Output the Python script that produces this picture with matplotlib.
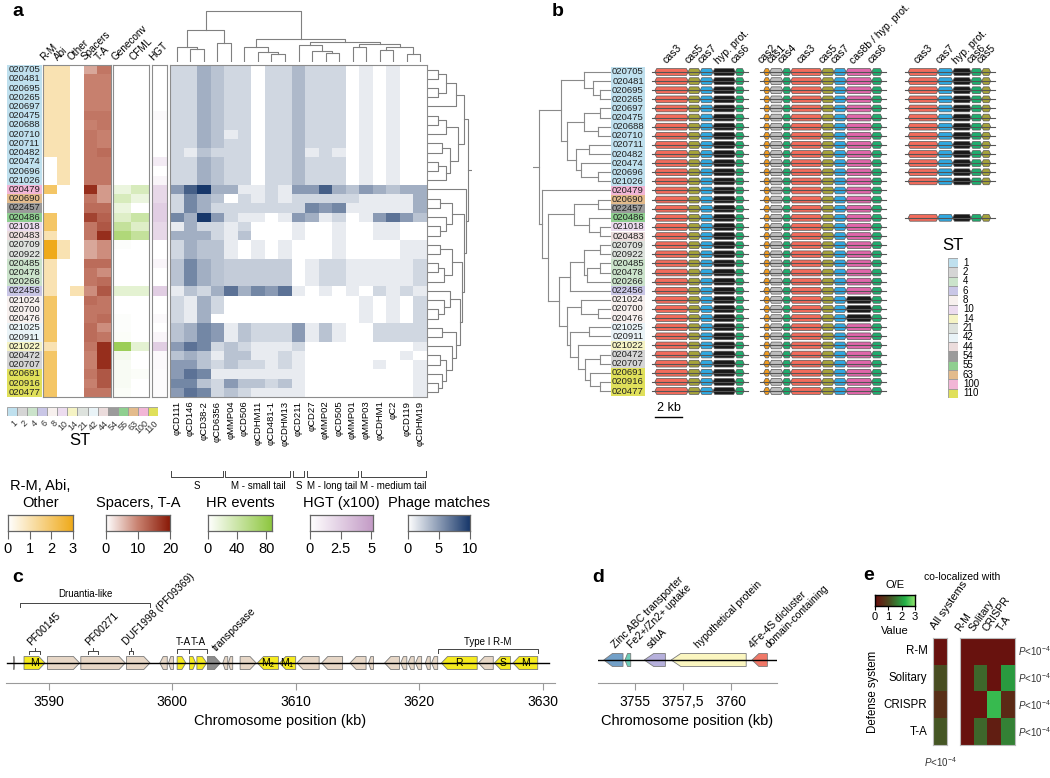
import numpy as np
import matplotlib
matplotlib.use("Agg")
import matplotlib.pyplot as plt
from matplotlib.colors import LinearSegmentedColormap
from matplotlib.patches import Rectangle, Polygon

plt.rcParams['font.family'] = ['Liberation Sans', 'DejaVu Sans']
plt.rcParams['mathtext.fontset'] = 'custom'
plt.rcParams['mathtext.rm'] = 'Liberation Sans'
plt.rcParams['mathtext.it'] = 'Liberation Sans:italic'

# ---------------- data ----------------
strains = ["020705", "020481", "020695", "020265", "020697", "020475", "020688", "020710",
           "020711", "020482", "020474", "020696", "021026", "020479", "020690", "022457",
           "020486", "021018", "020483", "020709", "020922", "020485", "020478", "020266",
           "022456", "021024", "020700", "020476", "021025", "020911", "021022", "020472",
           "020707", "020691", "020916", "020477"]
strain_st = [1]*13 + [100, 63, 54, 55, 10, 44, 21, 21, 4, 4, 4, 6, 8, 8, 8, 42, 42, 14,
                      2, 2, 110, 110, 110]
st_levels = [1, 2, 4, 6, 8, 10, 14, 21, 42, 44, 54, 55, 63, 100, 110]
st_colors = ['#bfe0ee', '#d5d5d5', '#cbe3cb', '#c9c6e6', '#f7f0ee', '#ecdcef', '#f5f3c4',
             '#dde2dd', '#e9f3f7', '#ebdcdc', '#9b9b9b', '#8fcf90', '#e3bb8c', '#f2b6d6',
             '#e0e05a']

rm = [1]*10 + [0, 0, 0, 2, 0, 0, 2, 2, 1, 3, 3, 1, 1, 1, 1, 2, 2, 2, 2, 2, 1, 2, 2, 2, 2, 2]
abi = [1]*13 + [0]*6 + [1, 1] + [0]*15
other = [0]*24 + [1] + [0]*11
spacers = [7, 10, 10, 10, 10, 11, 10, 11, 11, 11, 11, 11, 11, 18, 11, 12, 16, 11, 11, 7, 7,
           12, 11, 11, 9, 12, 11, 11, 12, 12, 11, 10, 10, 11, 10, 11]
ta = [11, 10, 10, 10, 10, 11, 11, 10, 10, 12, 11, 11, 11, 8, 8, 12, 13, 14, 18, 9, 9,
      12, 9, 12, 14, 11, 11, 12, 9, 11, 18, 18, 18, 14, 14, 11]
geneconv = [0]*13 + [15, 30, 15, 25, 45, 60, 2, 0, 0, 0, 0, 20, 0, 0, 2, 2, 3, 75, 8, 5, 5, 5, 3]
cfml = [0]*13 + [30, 15, 0, 40, 25, 45, 0, 0, 0, 0, 0, 20, 0, 0, 0, 0, 0, 20, 0, 0, 3, 0, 0]
hgt = [0, 0, 0, 0, 0, 0.3, 0, 0, 0, 0, 1, 0, 0.5, 2, 2, 2.5, 2.5, 2, 2, 0, 0, 0.5, 0, 0,
       2.5, 0, 0, 0.3, 0, 0.5, 2.5, 0.3, 0.3, 0.2, 0.2, 0.2]

phage_names = ["φCD111", "φCD146", "φCD38-2", "φCD6356", "φMMP04", "φCD506", "φCDHM11",
               "φCD481-1", "φCDHM13", "φCD211", "φCD27", "φMMP02", "φCD505", "φMMP01",
               "φMMP03", "φCDHM1", "φC2", "φCD119", "φCDHM19"]
phage_groups = [("S", 0, 3), ("M - small tail", 4, 8), ("S", 9, 9),
                ("M - long tail", 10, 13), ("M - medium tail", 14, 18)]
st1_row = [2, 2, 4, 3, 2, 2, 0, 2, 2, 3.5, 2, 2, 2, 0, 1, 0, 1, 0, 0]
phage = [
    st1_row, st1_row, st1_row, st1_row, st1_row, st1_row, st1_row,
    [2, 2, 4, 3, 1, 2, 0, 2, 2, 3.5, 2, 2, 2, 0, 1, 0, 1, 0, 0],
    st1_row,
    [2, 1, 3, 2, 2, 2, 0, 2, 2, 3.5, 1, 2, 1, 0, 1, 0, 1, 0, 0],
    st1_row, st1_row, st1_row,
    [5, 8, 10, 4, 4, 1, 1, 2, 1, 5, 5, 8, 4, 3, 5, 4, 3, 4, 4],
    [2, 6, 4, 3, 0, 2, 1, 2, 1, 2, 2, 2, 2, 2, 1, 1, 1, 1, 4],
    [2, 6, 4, 2, 2, 2, 2, 2, 2, 2, 6, 5, 6, 1, 1, 1, 1, 1, 4],
    [6, 4, 10, 5, 2, 1, 1, 0, 1, 5, 4, 1, 2, 0, 1, 5, 7, 5, 3],
    [1, 4, 2, 2, 1, 2, 0, 0, 0, 1, 0, 0, 1, 0, 0, 1, 1, 0, 0],
    [4, 4, 4, 2, 1, 3, 0, 0, 0, 1, 0, 0, 1, 0, 0, 1, 1, 0, 0],
    [2, 4, 3, 3, 1, 0, 1, 0, 1, 0, 0, 0, 1, 0, 0, 0, 0, 1, 1],
    [2, 4, 3, 3, 1, 0, 1, 0, 1, 0, 0, 0, 1, 0, 0, 0, 0, 1, 1],
    [3, 6, 4, 3, 2.5, 2.5, 2.5, 2.5, 2.5, 0, 1, 2, 2, 1, 1, 1, 1, 1, 2],
    [3, 6, 4, 3, 2.5, 2.5, 2.5, 2.5, 2.5, 0, 1, 2, 2, 1, 1, 1, 1, 1, 2],
    [3, 6, 4, 3, 2.5, 2.5, 2.5, 2.5, 2.5, 0, 1, 2, 2, 1, 1, 1, 1, 1, 2],
    [1, 3, 2, 4, 7, 4, 6, 5, 7, 1, 0, 1, 0, 1, 0, 2, 1, 2, 1],
    [2, 1, 4, 2, 0, 0, 0, 0, 0, 0, 0, 0, 0, 0, 1, 0, 1, 0, 2],
    [2, 1, 4, 2, 0, 0, 0, 0, 0, 0, 0, 0, 0, 0, 1, 0, 1, 0, 2],
    [2, 1, 4, 0, 0, 0, 0, 0, 0, 0, 0, 0, 0, 0, 1, 0, 1, 0, 2],
    [3, 4, 6, 5, 1, 3, 2, 2, 2, 5, 1, 3, 1, 0, 0, 2, 2, 2, 2],
    [3, 4, 6, 5, 1, 3, 2, 2, 2, 5, 1, 3, 1, 0, 0, 2, 2, 2, 2],
    [5, 7, 6, 2, 3, 2, 1, 1, 1, 2, 0, 0, 0, 0, 0, 0, 0, 0, 1],
    [3, 4, 3, 1, 3, 3, 1, 1, 2, 1, 0, 0, 0, 0, 0, 0, 0, 1, 0],
    [5, 5, 3, 2, 3, 2, 2, 1, 2, 1, 0, 0, 0, 0, 0, 1, 0, 0, 1],
    [5, 7, 6, 1, 1, 1, 1, 1, 1, 1, 0, 0, 0, 0, 0, 0, 0, 0, 1],
    [6, 6, 3, 2, 5, 3, 3, 2, 3, 1, 0, 0, 0, 0, 0, 0, 0, 0, 1],
    [5, 7, 6, 2, 3, 2, 1, 1, 1, 1, 0, 0, 0, 0, 0, 0, 0, 0, 1],
]

# dendrograms: (height, left, right); leaves are indices
col_tree = (1.0,
            (0.62, (0.3, 0, (0.25, 1, 2)), (0.37, 3, 4)),
            (0.45, (0.3, 5, (0.2, 6, (0.15, 7, 8))),
             (0.4, (0.33, 9, (0.22, 10, (0.17, 11, 12))),
              (0.36, (0.3, 13, 14), (0.3, (0.24, 15, 16), (0.15, 17, 18))))))
row_tree = (1.0,
            (0.9, (0.7, (0.45, (0.25, 0, 1), (0.25, 2, 3)), 4),
             (0.75, (0.45, (0.25, 5, 6), 7), (0.55, (0.35, 8, 9), (0.45, (0.25, 10, 11), 12)))),
            (0.95, 13, (0.9, (0.6, (0.3, 14, 15), (0.45, 16, (0.3, 17, 18))),
                        (0.85, (0.6, (0.3, 19, 20), (0.4, (0.25, 21, 22), 23)),
                         (0.8, (0.55, 24, (0.4, 25, (0.25, 26, 27))),
                          (0.7, (0.35, 28, 29),
                           (0.6, 30, (0.45, (0.3, 31, 32), (0.35, 33, (0.25, 34, 35))))))))))
# phylogeny of panel b: (node depth from root, left, right)
b_tree = (0.03,
          (0.32, (0.63, 0, (0.75, 1, (0.85, 2, 3))),
           (0.41, (0.63, (0.85, 4, 5), (0.82, 6, 7)),
            (0.52, (0.7, 8, 9), (0.6, 10, (0.82, 11, 12))))),
          (0.07, 13, (0.15, (0.5, (0.82, 14, 15), (0.7, 16, (0.85, 17, 18))),
                      (0.3, (0.45, (0.63, (0.85, 19, 20), (0.68, (0.85, 21, 22), 23)), 24),
                       (0.4, (0.6, 25, (0.82, 26, 27)),
                        (0.45, (0.7, 28, 29),
                         (0.55, 30, (0.65, (0.85, 31, 32), (0.72, 33, (0.85, 34, 35))))))))))

# CRISPR-Cas loci (gene lengths in kb)
cl1_genes = ["cas3", "cas5", "cas7", "hyp. prot.", "cas6"]
cl1_len = [2.45, 0.9, 0.95, 1.65, 0.65]
cl2_genes = ["cas2", "cas1", "cas4", "cas3", "cas5", "cas7", "cas8b / hyp. prot.", "cas6"]
cl2_len = [0.45, 0.95, 0.6, 2.3, 0.9, 0.9, 1.9, 0.75]
cl3_genes = ["cas3", "cas7", "hyp. prot.", "cas6", "cas5"]
cl3_len = [2.2, 1.1, 1.35, 0.8, 0.65]
cl_start = [0.74, 8.8, 19.5]
gene_colors = {"cas3": '#f26b5b', "cas5": '#a5a23a', "cas7": '#2fa8e0', "hyp. prot.": '#1a1a1a',
               "cas6": '#1fad6e', "cas2": '#f39c1e', "cas1": '#bdbdbd', "cas4": '#1fad6e',
               "cas8b / hyp. prot.": '#e066aa'}
has_cl3 = list(range(13)) + [16]
cl2_hyp_rows = [25, 26, 27]

# panel c: (start kb, end kb, strand, kind, label)
c_genes = [(3587.15, 3587.25, 1, 'o', ''), (3588.0, 3589.7, 1, 'y', 'M'),
           (3589.9, 3592.5, 1, 'o', ''), (3592.6, 3596.2, 1, 'o', ''), (3596.3, 3598.2, 1, 'o', ''),
           (3599.0, 3599.6, -1, 'o', ''), (3599.7, 3600.1, -1, 'o', ''),
           (3600.4, 3601.1, 1, 'y', ''), (3601.4, 3601.9, 1, 'y', ''), (3602.0, 3602.8, 1, 'y', ''),
           (3602.85, 3603.9, 1, 'g', ''), (3604.1, 3604.5, -1, 'o', ''), (3604.55, 3604.9, -1, 'o', ''),
           (3605.5, 3606.8, 1, 'o', ''), (3606.9, 3608.6, -1, 'y', 'M$_2$'),
           (3608.7, 3610.0, -1, 'y', 'M$_1$'), (3610.1, 3611.9, -1, 'o', ''),
           (3612.1, 3613.8, -1, 'o', ''), (3614.4, 3615.7, -1, 'o', ''), (3615.9, 3616.3, -1, 'o', ''),
           (3617.2, 3618.4, -1, 'o', ''), (3618.5, 3619.0, -1, 'o', ''), (3619.1, 3619.6, -1, 'o', ''),
           (3619.7, 3620.2, -1, 'o', ''), (3620.5, 3620.9, -1, 'o', ''), (3621.0, 3621.5, -1, 'o', ''),
           (3621.8, 3624.7, -1, 'y', 'R'), (3624.8, 3626.0, -1, 'o', ''),
           (3626.1, 3627.4, -1, 'y', 'S'), (3627.6, 3629.6, -1, 'y', 'M')]
c_backbone = (3586.6, 3630.5)
c_domains = [("PF00145", 3588.4, 3589.3), ("PF00271", 3593.2, 3594.0),
             ("DUF1998 (PF09369)", 3596.5, 3596.8)]
c_ta = [(3600.4, 3601.4), (3601.4, 3602.8)]
c_transposase = 3603.7
c_druantia = (3587.7, 3598.2)
c_rm = (3621.5, 3629.6)
c_ticks = [3590, 3600, 3610, 3620, 3630]

# panel d
d_genes = [(3753.4, 3754.4, -1, '#72a0c8'), (3754.5, 3754.8, -1, '#6ccdb8'),
           (3755.5, 3756.6, -1, '#b6b0dc'), (3756.9, 3760.8, -1, '#fbf6c0'),
           (3761.1, 3761.9, -1, '#f07868')]
d_labels = [("Zinc ABC transporter", 3754.1), ("Fe2+/Zn2+ uptake", 3754.9), ("sduA", 3755.9),
            ("hypothetical protein", 3758.4), ("4Fe-4S dicluster", 3761.25),
            ("domain-containing", 3762.05)]
d_backbone = (3753.1, 3762.4)
d_ticks = [3755, 3757.5, 3760]
d_ticklabels = ["3755", "3757,5", "3760"]

# panel e
e_rows = ["R-M", "Solitary", "CRISPR", "T-A"]
e_all = [0.1, 1.1, 0.6, 1.2]
e_pair = [[0.1, 0.1, 0.1, 0.1],
          [0.1, 1.4, 0.1, 2.0],
          [0.1, 0.1, 2.4, 0.5],
          [0.1, 1.4, 0.3, 1.7]]

# ---------------- colour maps ----------------
c_org = LinearSegmentedColormap.from_list('org', ['#ffffff', '#efaa1a'])
c_red = LinearSegmentedColormap.from_list('red', ['#ffffff', '#c8816f', '#8a1a08'])
c_grn = LinearSegmentedColormap.from_list('grn', ['#ffffff', '#8cc63c'])
c_pur = LinearSegmentedColormap.from_list('pur', ['#ffffff', '#c39bc6'])
c_blu = LinearSegmentedColormap.from_list('blu', ['#ffffff', '#17376a'])
c_oe = LinearSegmentedColormap.from_list('oe', [(0, '#6b0d0d'), (0.35, '#4a4a20'),
                                                 (0.75, '#22b048'), (1, '#8fe36e')])

W, H = 1050, 778
fig = plt.figure(figsize=(10.5, 7.78), dpi=100)
GRAY = '#8c8c8c'


def add_ax(x0, y0, x1, y1):
    return fig.add_axes([x0 / W, 1 - y1 / H, (x1 - x0) / W, (y1 - y0) / H])


def ftext(x, y, s, **kw):
    fig.text(x / W, 1 - y / H, s, **kw)


def rgba(vals, cmap, vmax):
    return cmap(np.clip(np.asarray(vals, float) / vmax, 0, 1))


def heat(ax, img):
    ax.imshow(img, aspect='auto', interpolation='nearest')
    ax.set_xticks([])
    ax.set_yticks([])
    for sp in ax.spines.values():
        sp.set_color(GRAY)
        sp.set_linewidth(0.8)


def dendro(ax, node, vertical):
    if isinstance(node, int):
        return node, 0.0
    h, a, b = node
    pa, ha = dendro(ax, a, vertical)
    pb, hb = dendro(ax, b, vertical)
    xs, ys = [pa, pa, pb, pb], [ha, h, h, hb]
    if vertical:
        ax.plot(xs, ys, color='#808080', lw=0.8)
    else:
        ax.plot(ys, xs, color='#808080', lw=0.8)
    return (pa + pb) / 2, h


def clado(ax, node):
    if isinstance(node, int):
        return node, 1.0
    d, a, b = node
    pa, xa = clado(ax, a)
    pb, xb = clado(ax, b)
    ax.plot([d, d], [pa, pb], color='#8a8a8a', lw=0.8)
    ax.plot([d, xa], [pa, pa], color='#8a8a8a', lw=0.8)
    ax.plot([d, xb], [pb, pb], color='#8a8a8a', lw=0.8)
    return (pa + pb) / 2, d


def label_boxes(ax):
    for i, (s, t) in enumerate(zip(strains, strain_st)):
        ax.add_patch(Rectangle((0, i - 0.5), 1, 1, color=st_colors[st_levels.index(t)], lw=0))
        ax.text(0.5, i, s, ha='center', va='center', fontsize=6.8, color='#222222')
    ax.set_xlim(0, 1)
    ax.set_ylim(len(strains) - 0.5, -0.5)
    ax.axis('off')


n = len(strains)
A_TOP, A_BOT = 65, 397

# ================= panel a =================
ftext(12, 12, 'a', fontsize=14, fontweight='bold', va='center')
label_boxes(add_ax(7, A_TOP, 42, A_BOT))

ax = add_ax(43, A_TOP, 111, A_BOT)
heat(ax, np.stack([rgba(rm, c_org, 3), rgba(abi, c_org, 3), rgba(other, c_org, 3),
                   rgba(spacers, c_red, 20), rgba(ta, c_red, 20)], axis=1))
for j, s in enumerate(["R-M", "Abi", "Other", "Spacers", "T-A"]):
    ax.text(j - 0.3, -0.8, s, rotation=45, ha='left', va='bottom', rotation_mode='anchor',
            fontsize=7.2)

ax = add_ax(113, A_TOP, 149, A_BOT)
heat(ax, np.stack([rgba(geneconv, c_grn, 88), rgba(cfml, c_grn, 88)], axis=1))
for j, s in enumerate(["Geneconv", "CFML"]):
    ax.text(j - 0.3, -0.8, s, rotation=45, ha='left', va='bottom', rotation_mode='anchor',
            fontsize=7.2)

ax = add_ax(152, A_TOP, 167, A_BOT)
heat(ax, rgba(hgt, c_pur, 5.16)[:, None, :])
ax.text(-0.3, -0.8, "HGT", rotation=45, ha='left', va='bottom', rotation_mode='anchor',
        fontsize=7.2)

ax = add_ax(170, A_TOP, 427, A_BOT)
heat(ax, rgba(phage, c_blu, 10))
for j, s in enumerate(phage_names):
    ax.text(j, n - 0.1, s, rotation=90, ha='center', va='top', fontsize=6.8)

ax = add_ax(170, 470, 427, 494)
ax.set_xlim(-0.5, 18.5)
ax.set_ylim(1, 0)
ax.axis('off')
for name, j0, j1 in phage_groups:
    ax.plot([j0 - 0.4, j0 - 0.4, j1 + 0.4, j1 + 0.4], [0.05, 0.3, 0.3, 0.05], color='#444444', lw=0.7)
    ax.text((j0 + j1) / 2, 0.45, name, ha='center', va='top', fontsize=7)

ax = add_ax(170, 10, 427, 62)
dendro(ax, col_tree, True)
ax.set_xlim(-0.5, 18.5)
ax.set_ylim(0, 1.02)
ax.axis('off')

ax = add_ax(428, A_TOP, 472, A_BOT)
p, h = dendro(ax, row_tree, False)
ax.plot([h, 1.08], [p, p], color='#808080', lw=0.8)
ax.set_ylim(n - 0.5, -0.5)
ax.set_xlim(0, 1.1)
ax.axis('off')

# ST strip
ax = add_ax(7, 407, 158, 416)
for j, (lv, col) in enumerate(zip(st_levels, st_colors)):
    ax.add_patch(Rectangle((j, 0), 1, 1, facecolor=col, edgecolor='#9a9a9a', lw=0.6))
    ax.text(j + 0.6, -0.3, str(lv), rotation=45, ha='right', va='top', rotation_mode='anchor',
            fontsize=6.5, color='#333333')
ax.set_xlim(0, len(st_levels))
ax.set_ylim(0, 1)
ax.axis('off')
ftext(80, 440, 'ST', fontsize=12, ha='center', va='center')

# colour legends
legends = [("R-M, Abi,\nOther", 8, 73, c_org, 3, [0, 1, 2, 3], ["0", "1", "2", "3"]),
           ("Spacers, T-A", 106, 170, c_red, 20, [0, 10, 20], ["0", "10", "20"]),
           ("HR events", 208, 272, c_grn, 88, [0, 40, 80], ["0", "40", "80"]),
           ("HGT (x100)", 310, 373, c_pur, 5.16, [0, 2.5, 5], ["0", "2.5", "5"]),
           ("Phage matches", 408, 470, c_blu, 10, [0, 5, 10], ["0", "5", "10"])]
for title, x0, x1, cm, vmax, ticks, tl in legends:
    ax = add_ax(x0, 515, x1, 531)
    ax.imshow(np.linspace(0, vmax, 256)[None, :], cmap=cm, vmin=0, vmax=vmax, aspect='auto',
              extent=(0, vmax, 0, 1))
    ax.set_xlim(0, vmax)
    ax.set_yticks([])
    ax.set_xticks(ticks)
    ax.set_xticklabels(tl, fontsize=10.5)
    ax.tick_params(axis='x', length=6, width=0.8, color='#666666', pad=2)
    for sp in ax.spines.values():
        sp.set_color('#666666')
        sp.set_linewidth(0.9)
    ax.set_title(title, fontsize=10.5, pad=6)

# ================= panel b =================
ftext(552, 12, 'b', fontsize=14, fontweight='bold', va='center')
row_h = (391 - 72) / (n - 1)
top, bot = 72 - row_h / 2, 391 + row_h / 2

ax = add_ax(533, top, 611, bot)
p, d0 = clado(ax, b_tree)
ax.plot([-0.05, d0], [p, p], color='#8a8a8a', lw=0.8)
ax.set_xlim(-0.055, 1.0)
ax.set_ylim(n - 0.5, -0.5)
ax.axis('off')

label_boxes(add_ax(611, top, 645, bot))

ax = add_ax(645, top, 1000, bot)
ax.set_xlim(0, 355 / 13.5)
ax.set_ylim(n - 0.5, -0.5)
ax.axis('off')


def capsule(ax, s, e, y, h, tip, fc):
    pts = [(s, y), (s + tip, y - h), (e - tip, y - h), (e, y), (e - tip, y + h), (s + tip, y + h)]
    ax.add_patch(Polygon(pts, closed=True, facecolor=fc, edgecolor='#555555', lw=0.5))


clusters = [(cl1_genes, cl1_len), (cl2_genes, cl2_len), (cl3_genes, cl3_len)]
for k, (genes, lens) in enumerate(clusters):
    edges = np.concatenate([[0], np.cumsum(lens)]) + cl_start[k]
    for g, a0, a1 in zip(genes, edges[:-1], edges[1:]):
        ax.text((a0 + a1) / 2 - 0.3, -0.7, g, rotation=45, ha='left', va='bottom',
                rotation_mode='anchor', fontsize=7.6, clip_on=False)
    for i in range(n):
        if k == 2 and i not in has_cl3:
            continue
        ax.plot([edges[0] - 0.25, edges[-1] + 0.3], [i, i], color='#555555', lw=0.8)
        for g, a0, a1 in zip(genes, edges[:-1], edges[1:]):
            col = gene_colors[g]
            if k == 1 and g.startswith("cas8b") and i in cl2_hyp_rows:
                col = '#1a1a1a'
            capsule(ax, a0, a1, i, 0.37, 0.12, col)
ax.plot([cl_start[0], cl_start[0] + 2], [37.9, 37.9], color='k', lw=1, clip_on=False)
ax.text(cl_start[0] + 1, 36.9, "2 kb", ha='center', va='center', fontsize=9, clip_on=False)

ax = add_ax(948, 258, 958, 398)
for j, col in enumerate(st_colors):
    ax.add_patch(Rectangle((0, j), 1, 1, facecolor=col, edgecolor='#9a9a9a', lw=0.6))
    ax.text(1.5, j + 0.5, str(st_levels[j]), ha='left', va='center', fontsize=7)
ax.set_xlim(0, 1)
ax.set_ylim(len(st_colors), 0)
ax.axis('off')
ftext(953, 246, 'ST', fontsize=12, ha='center', va='center')


def arrow_gene(ax, s, e, strand, h, fc):
    tip = min(0.5, 0.45 * (e - s))
    if strand > 0:
        pts = [(s, -h), (e - tip, -h), (e, 0), (e - tip, h), (s, h)]
    else:
        pts = [(e, -h), (s + tip, -h), (s, 0), (s + tip, h), (e, h)]
    ax.add_patch(Polygon(pts, closed=True, facecolor=fc, edgecolor='#7a7a7a', lw=0.6))


def genome_axis(ax, ticks, labels):
    for s in ['left', 'top', 'right']:
        ax.spines[s].set_visible(False)
    ax.spines['bottom'].set_color('#9a9a9a')
    ax.set_yticks([])
    ax.set_xticks(ticks)
    ax.set_xticklabels(labels, fontsize=10)
    ax.tick_params(axis='x', length=5, color='#9a9a9a', pad=4)
    ax.set_xlabel('Chromosome position (kb)', fontsize=10.5, labelpad=3)


# ================= panel c =================
ftext(12, 578, 'c', fontsize=14, fontweight='bold', va='center')
ax = add_ax(5.5, 596, 555, 683)
ax.set_xlim(3586.5, 3631)
ax.set_ylim(-20, 67)
ax.plot(c_backbone, [0, 0], color='k', lw=1)
kinds = {'y': '#f5ea1f', 'o': '#e6d6c6', 'g': '#8c8c8c'}
for s, e, strand, kind, lab in c_genes:
    arrow_gene(ax, s, e, strand, 6.5, kinds[kind])
    if lab:
        ax.text((s + e) / 2, 0, lab, ha='center', va='center', fontsize=7.5)
bk = dict(color='#444444', lw=0.7, clip_on=False)
ax.plot([c_druantia[0], c_druantia[0], c_druantia[1], c_druantia[1]], [56, 60, 60, 56], **bk)
ax.text(sum(c_druantia) / 2, 64, "Druantia-like", ha='center', va='bottom', fontsize=7)
for lab, a0, a1 in c_domains:
    m = (a0 + a1) / 2
    ax.plot([a0, a0, a1, a1], [9, 12, 12, 9], **bk)
    ax.plot([m, m], [12, 15], **bk)
    ax.text(m - 0.2, 16, lab, rotation=45, ha='left', va='bottom', rotation_mode='anchor',
            fontsize=7.5)
for a0, a1 in c_ta:
    ax.plot([a0, a0, a1, a1], [10, 14, 14, 10], **bk)
    ax.text((a0 + a1) / 2, 16, "T-A", ha='center', va='bottom', fontsize=7)
ax.text(c_transposase, 10, "transposase", rotation=45, ha='left', va='bottom',
        rotation_mode='anchor', fontsize=7.5)
ax.plot([c_rm[0], c_rm[0], c_rm[1], c_rm[1]], [10, 14, 14, 10], **bk)
ax.text(sum(c_rm) / 2, 16, "Type I R-M", ha='center', va='bottom', fontsize=7)
genome_axis(ax, c_ticks, [str(t) for t in c_ticks])

# ================= panel d =================
ftext(592, 578, 'd', fontsize=14, fontweight='bold', va='center')
ax = add_ax(598, 583, 777, 683)
ax.set_xlim(3753.1, 3762.4)
ax.set_ylim(-23, 77)
ax.plot(d_backbone, [0, 0], color='k', lw=1)
for s, e, strand, col in d_genes:
    arrow_gene(ax, s, e, strand, 6.5, col)
for lab, xk in d_labels:
    ax.text(xk, 10, lab, rotation=45, ha='left', va='bottom', rotation_mode='anchor',
            fontsize=7.5, clip_on=False)
genome_axis(ax, d_ticks, d_ticklabels)

# ================= panel e =================
ftext(863, 576, 'e', fontsize=14, fontweight='bold', va='center')
ftext(962, 577, 'co-localized with', fontsize=7.5, ha='center', va='center')
ftext(895, 585, 'O/E', fontsize=8, ha='center', va='center')
ax = add_ax(875, 595, 915, 606)
ax.imshow(np.linspace(0, 3, 256)[None, :], cmap=c_oe, vmin=0, vmax=3, aspect='auto',
          extent=(0, 3, 0, 1))
ax.set_xlim(0, 3)
ax.set_yticks([])
ax.set_xticks([0, 1, 2, 3])
ax.set_xticklabels(["0", "1", "2", "3"], fontsize=8)
ax.tick_params(axis='x', length=3, pad=1)
for sp in ax.spines.values():
    sp.set_linewidth(1)
ftext(895, 631, 'Value', fontsize=8, ha='center', va='center')

ax = add_ax(933, 638, 947, 745)
ax.imshow(np.array(e_all)[:, None], cmap=c_oe, vmin=0, vmax=3, aspect='auto')
ax.set_xticks([])
ax.set_yticks([])
for sp in ax.spines.values():
    sp.set_color('#bbbbbb')
for i, r in enumerate(e_rows):
    ax.text(-0.9, i, r, ha='right', va='center', fontsize=8.3)
ax.text(-0.2, -0.75, "All systems", rotation=55, ha='left', va='bottom',
        rotation_mode='anchor', fontsize=8)

ax = add_ax(960, 638, 1015, 745)
ax.imshow(np.array(e_pair), cmap=c_oe, vmin=0, vmax=3, aspect='auto')
ax.set_xticks([])
ax.set_yticks([])
for sp in ax.spines.values():
    sp.set_color('#bbbbbb')
for j, r in enumerate(e_rows):
    ax.text(j - 0.35, -0.7, r, rotation=55, ha='left', va='bottom', rotation_mode='anchor',
            fontsize=7.6)
for i in range(len(e_rows)):
    ax.text(3.75, i, r'$P$<10$^{-4}$', ha='left', va='center', fontsize=7, color='#333333')
ftext(873, 692, 'Defense system', rotation=90, fontsize=8.3, ha='center', va='center')
ftext(940, 762, r'$P$<10$^{-4}$', fontsize=7, ha='center', va='center', color='#333333')

fig.savefig('out.png', dpi=100, facecolor='white')
